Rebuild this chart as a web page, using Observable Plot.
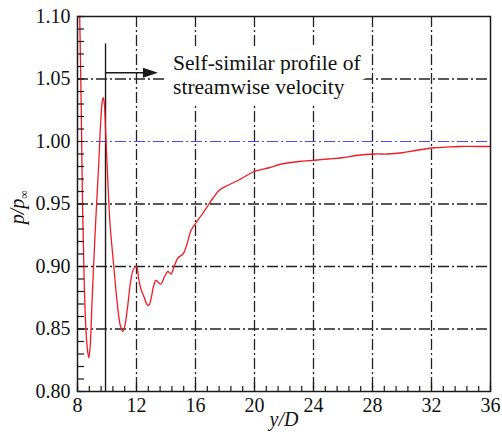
<!DOCTYPE html>
<html><head><meta charset="utf-8">
<script src="https://cdn.jsdelivr.net/npm/d3@7"></script>
<script src="https://cdn.jsdelivr.net/npm/@observablehq/plot@0.6"></script>
<style>
body{margin:0;background:#fff} svg{display:block}
svg, svg text { font-family: "Liberation Serif", "DejaVu Serif", "Times New Roman", Times, serif !important; }
</style>
</head><body><div id="chart"></div>
<script>
// ---- data ----
const yD = [8.15, 8.25, 8.34, 8.45, 8.57, 8.68, 8.77, 8.86, 8.98, 9.09, 9.25, 9.43, 9.57, 9.68, 9.75, 9.82, 9.92, 10.05, 10.2, 10.46, 10.7, 10.9, 11.07, 11.2, 11.4, 11.6, 11.8, 12.0, 12.15, 12.3, 12.5, 12.7, 12.84, 13.0, 13.15, 13.32, 13.5, 13.66, 13.9, 14.13, 14.34, 14.55, 14.82, 15.16, 15.4, 15.7, 16.04, 16.4, 16.86, 17.2, 17.61, 18.2, 18.91, 19.5, 20.0, 21.0, 21.84, 23.0, 24.09, 25.0, 25.93, 27.0, 28.18, 29.0, 30.02, 31.0, 32.2, 33.0, 33.9, 35.0, 36.0];
const pRatio = [1.10, 1.03, 0.95, 0.89, 0.85, 0.833, 0.827, 0.836, 0.87, 0.90, 0.94, 0.98, 1.015, 1.032, 1.035, 1.03, 1.005, 0.97, 0.935, 0.90, 0.87, 0.853, 0.848, 0.852, 0.868, 0.888, 0.898, 0.900, 0.890, 0.882, 0.876, 0.870, 0.869, 0.875, 0.884, 0.889, 0.887, 0.886, 0.892, 0.896, 0.894, 0.90, 0.907, 0.91, 0.917, 0.929, 0.935, 0.941, 0.949, 0.955, 0.961, 0.965, 0.969, 0.973, 0.976, 0.979, 0.982, 0.984, 0.985, 0.986, 0.987, 0.989, 0.990, 0.990, 0.991, 0.993, 0.995, 0.9955, 0.996, 0.996, 0.996];
const xTicks = [8, 12, 16, 20, 24, 28, 32, 36];
const yTicks = [0.80, 0.85, 0.90, 0.95, 1.00, 1.05, 1.10];
const xGrid = [12, 16, 20, 24, 28, 32];
const yGrid = [0.85, 0.90, 0.95, 1.05];
const refLevel = [1.00];
const xMinor = d3.range(8, 36.001, 0.8);
const yMinor = d3.range(0.80, 1.1001, 0.01);
const profileX = [9.9];
const profileTop = [1.078];
const arrowY = [1.055];
const arrowEndX = [12.6];
const arrowHeadX = [12.98];
const noteX = [14.48];
const noteY = [1.054];
const noteText = ["Self-similar profile of\nstreamwise velocity"];
const xLabel = ["y/D"];

const data = yD.map((x, i) => ({x, p: pRatio[i]}));
const W = 502, H = 441, mL = 77, mR = 12, mT = 16, mB = 50;
const innerW = W - mL - mR, innerH = H - mT - mB;
const dashDot = "11,3,2,3";
const ink = "#1a1a1a";
const headSymbol = {draw(ctx) { ctx.moveTo(7, 0); ctx.lineTo(-8, -5); ctx.lineTo(-8, 5); ctx.closePath(); }};

const plot = Plot.plot({
  width: W, height: H,
  marginLeft: mL, marginRight: mR, marginTop: mT, marginBottom: mB,
  style: {fontSize: "20px", color: "#111", background: "#fff"},
  x: {domain: [8, 36]},
  y: {domain: [0.80, 1.10]},
  marks: [
    Plot.ruleX(xGrid, {x: d => d, stroke: "#222", strokeWidth: 1.3, strokeDasharray: dashDot}),
    Plot.ruleY(yGrid, {y: d => d, stroke: "#222", strokeWidth: 1.3, strokeDasharray: dashDot}),
    Plot.ruleY(refLevel, {y: d => d, stroke: "#4a4aff", strokeWidth: 1.2, strokeDasharray: dashDot}),
    Plot.text(noteText, {x: () => noteX[0], y: () => noteY[0], text: d => d, textAnchor: "start", lineAnchor: "middle", lineHeight: 1.12, fontSize: 21.5, fill: "#111", stroke: "white", strokeWidth: 20, strokeLinejoin: "round"}),
    Plot.ruleX(profileX, {x: d => d, y1: 0.80, y2: profileTop[0], stroke: ink, strokeWidth: 1.4}),
    Plot.link(arrowY, {x1: profileX[0], x2: arrowEndX[0], y1: d => d, y2: d => d, stroke: ink, strokeWidth: 1.6}),
    Plot.dot(arrowY, {x: arrowHeadX[0], y: d => d, symbol: headSymbol, fill: ink, stroke: "none", r: 5}),
    Plot.line(data, {x: "x", y: "p", stroke: "#ee1c25", strokeWidth: 1.3, curve: "catmull-rom"}),
    Plot.tickY(yMinor, {y: d => d, insetRight: innerW - 7, stroke: ink, strokeWidth: 1.2}),
    Plot.tickX(xMinor, {x: d => d, insetTop: innerH - 5, stroke: ink, strokeWidth: 1.2}),
    Plot.tickX(xTicks, {x: d => d, insetTop: innerH - 9, stroke: ink, strokeWidth: 1.2}),
    Plot.axisX({ticks: xTicks, tickSize: 0, tickPadding: 6, label: null, tickFormat: d3.format("d"), fontSize: 20}),
    Plot.axisY({ticks: yTicks, tickSize: 0, tickPadding: 7, label: null, tickFormat: d3.format(".2f"), fontSize: 20}),
    Plot.text(xLabel, {frameAnchor: "bottom", dy: 34, text: d => d, fontStyle: "italic", fontSize: 20, fill: "#111"}),
    Plot.frame({stroke: ink, strokeWidth: 1.5})
  ]
});
document.getElementById("chart").appendChild(plot);

// y-axis title with subscript infinity
const svg = d3.select(plot);
const yl = svg.append("text")
  .attr("transform", `translate(24,${mT + innerH * 0.51}) rotate(-90)`)
  .attr("text-anchor", "middle")
  .attr("font-size", 20).attr("font-style", "italic").attr("fill", "#111");
yl.append("tspan").text("p/p");
yl.append("tspan").attr("font-size", 12).attr("dy", 4).attr("font-style", "normal").text("∞");
</script></body></html>
